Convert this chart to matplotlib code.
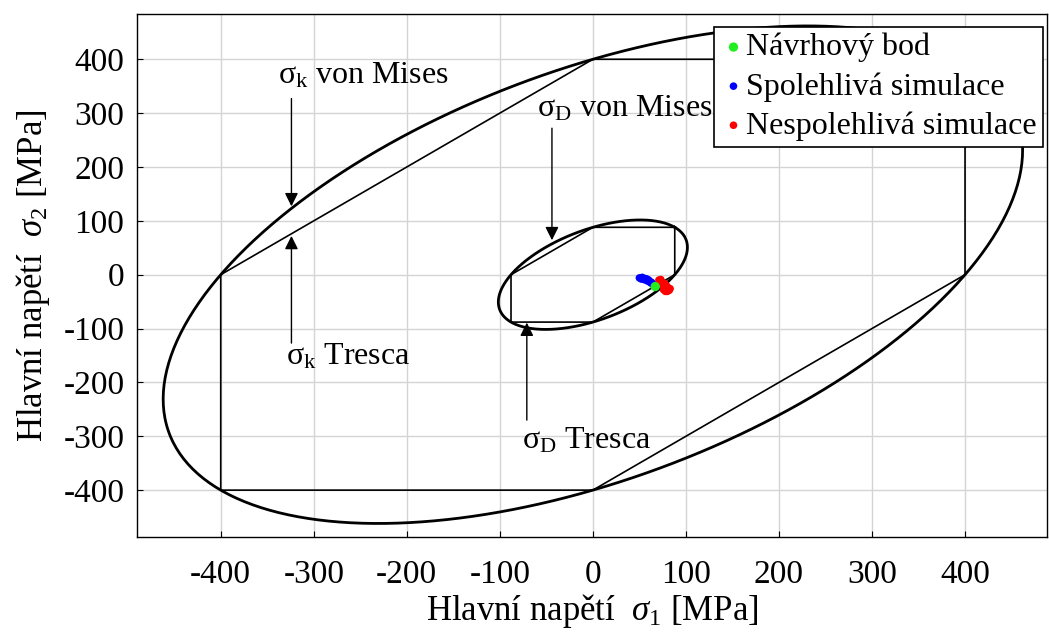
import numpy as np
import matplotlib.pyplot as plt

plt.rcParams['font.family'] = ['Liberation Serif', 'DejaVu Serif']
plt.rcParams['mathtext.fontset'] = 'custom'
plt.rcParams['mathtext.rm'] = 'Liberation Serif'
plt.rcParams['mathtext.it'] = 'Liberation Serif:italic'
plt.rcParams['axes.unicode_minus'] = False

# Mezní napětí [MPa]
sigma_k = 400.0
sigma_D = 88.0

# Návrhový bod a simulace [MPa]
design_s1 = [67.0]
design_s2 = [-22.0]
ok_s1 = [50, 52, 53, 55, 56, 57, 58, 59, 60, 61, 62, 63, 64, 65, 66]
ok_s2 = [-6, -8, -5, -9, -7, -10, -8, -12, -10, -13, -15, -14, -17, -18, -20]
bad_s1 = [71, 73, 74, 75, 76, 77, 78, 79, 80, 81, 82, 83, 76, 78, 80]
bad_s2 = [-10, -9, -14, -18, -22, -16, -25, -20, -27, -24, -29, -26, -28, -31, -31]

xticks = [-400, -300, -200, -100, 0, 100, 200, 300, 400]
yticks = [-400, -300, -200, -100, 0, 100, 200, 300, 400]


def mises(s):
    # s1^2 - s1*s2 + s2^2 = s^2
    t = np.linspace(0, 2 * np.pi, 400)
    u = np.sqrt(2) * s * np.cos(t)
    v = np.sqrt(2.0 / 3.0) * s * np.sin(t)
    return (u + v) / np.sqrt(2), (u - v) / np.sqrt(2)


def tresca(s):
    px = np.array([0, s, s, 0, -s, -s, 0])
    py = np.array([s, s, 0, -s, -s, 0, s])
    return px, py


fig = plt.figure(figsize=(10.49, 6.37), dpi=100)
ax = fig.add_axes([0.1306, 0.157, 0.8674, 0.821])

for s in (sigma_k, sigma_D):
    ex, ey = mises(s)
    ax.plot(ex, ey, color='black', lw=2.0, zorder=3)
    tx, ty = tresca(s)
    ax.plot(tx, ty, color='black', lw=1.2, zorder=3)

ax.scatter(ok_s1, ok_s2, s=30, color='blue', edgecolors='none', zorder=4,
           label='Spolehlivá simulace')
ax.scatter(bad_s1, bad_s2, s=30, color='red', edgecolors='none', zorder=4,
           label='Nespolehlivá simulace')
ax.scatter(design_s1, design_s2, s=45, color='#22ee22', edgecolors='none', zorder=5,
           label='Návrhový bod')

arrow = dict(arrowstyle='-|>', color='black', lw=1.0, mutation_scale=20,
             shrinkA=0, shrinkB=0)
fs = 23
ax.annotate('', xy=(-324, 127), xytext=(-324, 327), arrowprops=arrow)
ax.text(-338, 370, r'$\mathregular{\sigma_{k}}$ von Mises', fontsize=fs, va='center')
ax.annotate('', xy=(-324, 72), xytext=(-324, -127), arrowprops=arrow)
ax.text(-330, -153, r'$\mathregular{\sigma_{k}}$ Tresca', fontsize=fs, va='center')
ax.annotate('', xy=(-44, 64), xytext=(-44, 272), arrowprops=arrow)
ax.text(-60, 309, r'$\mathregular{\sigma_{D}}$ von Mises', fontsize=fs, va='center')
ax.annotate('', xy=(-71, -89), xytext=(-71, -270), arrowprops=arrow)
ax.text(-76, -309, r'$\mathregular{\sigma_{D}}$ Tresca', fontsize=fs, va='center')

ax.set_xlim(-490, 488)
ax.set_ylim(-487, 484)
ax.set_xticks(xticks)
ax.set_yticks(yticks)
ax.tick_params(labelsize=24, direction='in', length=4)
ax.tick_params(axis='x', pad=16)
ax.tick_params(axis='y', pad=9)
ax.grid(True, color='#d4d4d4', lw=1.0)
ax.set_axisbelow(True)
for sp in ax.spines.values():
    sp.set_linewidth(1.0)

ax.set_xlabel(r'Hlavní napětí  $\sigma_1$ [MPa]', fontsize=25, labelpad=2)
ax.set_ylabel(r'Hlavní napětí  $\sigma_2$ [MPa]', fontsize=25, labelpad=8)

h, l = ax.get_legend_handles_labels()
order = [2, 0, 1]
leg = ax.legend([h[i] for i in order], [l[i] for i in order], loc='upper right',
                bbox_to_anchor=(0.996, 0.976), fontsize=23, fancybox=False,
                framealpha=1, edgecolor='black', handletextpad=0.0,
                handlelength=0.8, labelspacing=0.3, borderpad=0.2,
                borderaxespad=0, markerscale=1.0)
leg.get_frame().set_linewidth(1.2)

fig.savefig('out.png', dpi=100)
